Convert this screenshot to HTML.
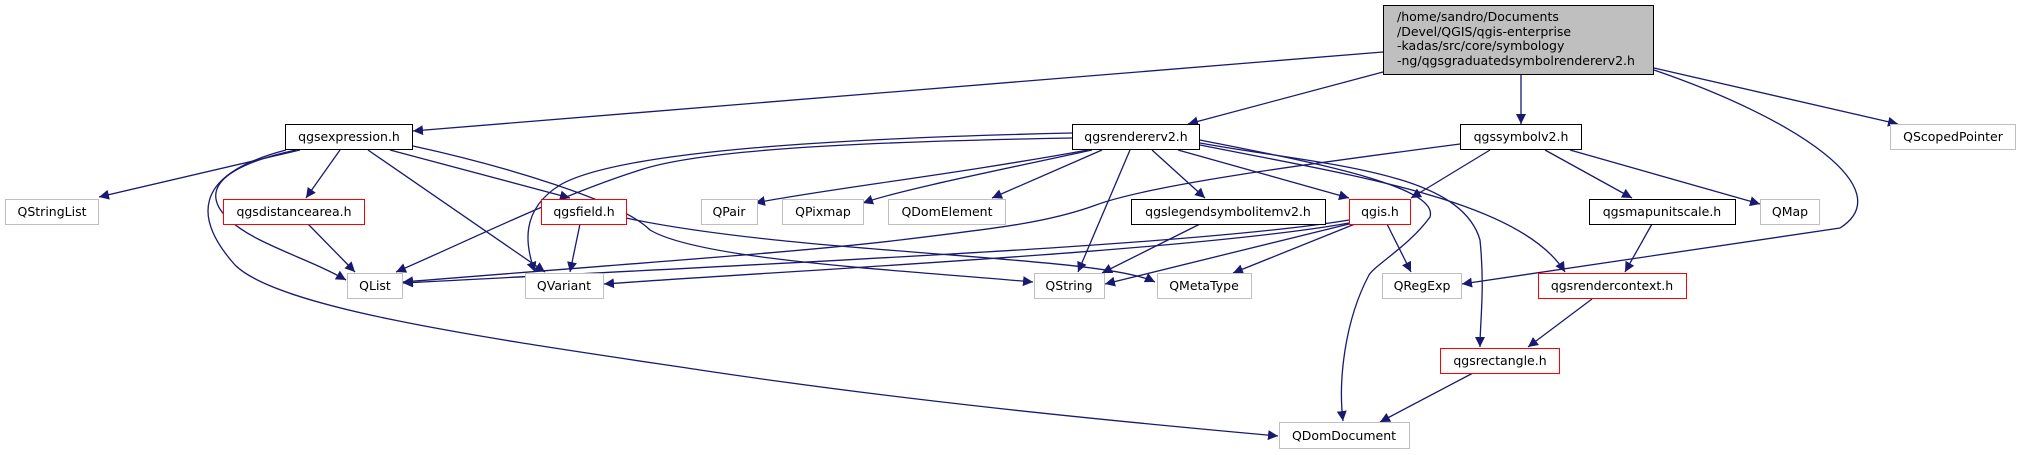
<!DOCTYPE html>
<html><head><meta charset="utf-8"><style>
html,body{margin:0;padding:0;background:#fff;}
svg{display:block;}
text{font-family:"DejaVu Sans","Liberation Sans",sans-serif;font-size:12.5px;fill:#000;}
.e{fill:none;stroke:#191970;stroke-width:1.3;}
</style></head><body>
<svg width="2021" height="455" viewBox="0 0 2021 455" xmlns="http://www.w3.org/2000/svg">
<defs><marker id="a" viewBox="0 0 10 10" refX="10" refY="5" markerWidth="10" markerHeight="10" markerUnits="userSpaceOnUse" orient="auto"><path d="M0,0L10,5L0,10z" fill="#191970"/></marker></defs>
<g marker-end="url(#a)">
<path class="e" d="M1383,52 L413,131"/>
<path class="e" d="M1383,72 L1188,124"/>
<path class="e" d="M1521,75 L1521,124"/>
<path class="e" d="M1654,68 L1898,124"/>
<path class="e" d="M1654,70 C1800,120 1900,190 1840,228 L1462,284"/>
<path class="e" d="M300,150 L99,197"/>
<path class="e" d="M340,150 L306,198"/>
<path class="e" d="M296,150 C180,175 210,215 260,240 C290,255 320,265 346,280"/>
<path class="e" d="M286,150 C190,175 195,220 235,265 C280,310 500,340 700,370 C900,400 1100,420 1278,436"/>
<path class="e" d="M368,150 L545,272"/>
<path class="e" d="M390,150 L570,198"/>
<path class="e" d="M413,146 C500,165 620,200 650,230 C700,260 900,270 1033,282"/>
<path class="e" d="M308,224 L355,272"/>
<path class="e" d="M580,224 L570,272"/>
<path class="e" d="M626,218 C800,255 1100,255 1155,282"/>
<path class="e" d="M1072,138 C850,142 700,150 640,170 C560,195 470,240 396,272"/>
<path class="e" d="M1072,133 C850,138 620,150 560,185 C520,210 525,245 535,272"/>
<path class="e" d="M1088,150 C950,175 820,190 755,203"/>
<path class="e" d="M1092,150 C1000,170 900,190 863,203"/>
<path class="e" d="M1102,150 L992,198"/>
<path class="e" d="M1130,150 L1078,272"/>
<path class="e" d="M1152,150 L1205,198"/>
<path class="e" d="M1178,150 L1349,198"/>
<path class="e" d="M1200,140 C1300,160 1440,185 1430,217 C1410,245 1375,265 1369,275 C1345,320 1338,380 1343,421"/>
<path class="e" d="M1200,143 C1320,165 1460,170 1480,240 C1485,290 1480,320 1480,347"/>
<path class="e" d="M1200,145 C1350,175 1520,200 1565,272"/>
<path class="e" d="M1200,224 L1102,273"/>
<path class="e" d="M1349,220 C1200,245 800,262 403,283"/>
<path class="e" d="M1349,223 C1200,250 800,270 604,284"/>
<path class="e" d="M1349,224 L1105,284"/>
<path class="e" d="M1355,224 L1233,273"/>
<path class="e" d="M1387,224 L1411,272"/>
<path class="e" d="M1460,144 C1300,165 1150,185 1096,205 C1050,222 1000,228 900,240 C800,252 650,262 403,282"/>
<path class="e" d="M1490,150 L1411,198"/>
<path class="e" d="M1545,150 L1632,198"/>
<path class="e" d="M1570,150 L1760,204"/>
<path class="e" d="M1652,224 L1625,272"/>
<path class="e" d="M1592,299 L1528,347"/>
<path class="e" d="M1473,373 L1380,422"/>
</g>
<rect x="1383.5" y="5.5" width="270" height="69" fill="#bfbfbf" stroke="#000"/>
<text x="1397" y="21">/home/sandro/Documents</text>
<text x="1397" y="36">/Devel/QGIS/qgis-enterprise</text>
<text x="1397" y="50">-kadas/src/core/symbology</text>
<text x="1397" y="65">-ng/qgsgraduatedsymbolrendererv2.h</text>
<g fill="#fff" stroke-width="1">
<rect x="285.5" y="124.5" width="127" height="25" stroke="#000"/>
<rect x="1072.5" y="124.5" width="127" height="25" stroke="#000"/>
<rect x="1460.5" y="124.5" width="121" height="25" stroke="#000"/>
<rect x="1890.5" y="124.5" width="125" height="25" stroke="#bfbfbf"/>
<rect x="5.5" y="199.5" width="93" height="25" stroke="#bfbfbf"/>
<rect x="223.5" y="199.5" width="141" height="25" stroke="#f00"/>
<rect x="541.5" y="199.5" width="85" height="25" stroke="#f00"/>
<rect x="701.5" y="199.5" width="56" height="25" stroke="#bfbfbf"/>
<rect x="782.5" y="199.5" width="81" height="25" stroke="#bfbfbf"/>
<rect x="888.5" y="199.5" width="117" height="25" stroke="#bfbfbf"/>
<rect x="1131.5" y="199.5" width="194" height="25" stroke="#000"/>
<rect x="1349.5" y="199.5" width="61" height="25" stroke="#f00"/>
<rect x="1589.5" y="199.5" width="146" height="25" stroke="#000"/>
<rect x="1760.5" y="199.5" width="59" height="25" stroke="#bfbfbf"/>
<rect x="347.5" y="273.5" width="55" height="25" stroke="#bfbfbf"/>
<rect x="525.5" y="273.5" width="78" height="25" stroke="#bfbfbf"/>
<rect x="1034.5" y="273.5" width="70" height="25" stroke="#bfbfbf"/>
<rect x="1157.5" y="273.5" width="94" height="25" stroke="#bfbfbf"/>
<rect x="1382.5" y="273.5" width="79" height="25" stroke="#bfbfbf"/>
<rect x="1538.5" y="273.5" width="148" height="25" stroke="#f00"/>
<rect x="1440.5" y="348.5" width="119" height="25" stroke="#f00"/>
<rect x="1279.5" y="422.5" width="130" height="26" stroke="#bfbfbf"/>
</g>
<g text-anchor="middle">
<text x="349" y="141">qgsexpression.h</text>
<text x="1136" y="141">qgsrendererv2.h</text>
<text x="1521" y="141">qgssymbolv2.h</text>
<text x="1953" y="141">QScopedPointer</text>
<text x="52" y="216">QStringList</text>
<text x="294" y="216">qgsdistancearea.h</text>
<text x="584" y="216">qgsfield.h</text>
<text x="729" y="216">QPair</text>
<text x="823" y="216">QPixmap</text>
<text x="947" y="216">QDomElement</text>
<text x="1228" y="216">qgslegendsymbolitemv2.h</text>
<text x="1380" y="216">qgis.h</text>
<text x="1662" y="216">qgsmapunitscale.h</text>
<text x="1790" y="216">QMap</text>
<text x="375" y="290">QList</text>
<text x="564" y="290">QVariant</text>
<text x="1069" y="290">QString</text>
<text x="1204" y="290">QMetaType</text>
<text x="1422" y="290">QRegExp</text>
<text x="1612" y="290">qgsrendercontext.h</text>
<text x="1500" y="365">qgsrectangle.h</text>
<text x="1344" y="440">QDomDocument</text>
</g>
</svg>
</body></html>
